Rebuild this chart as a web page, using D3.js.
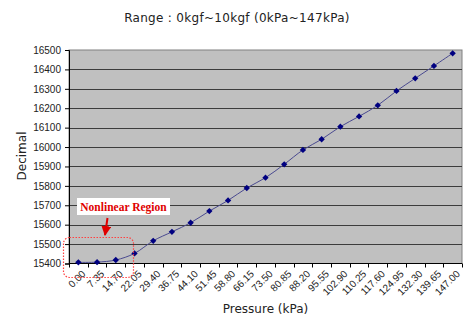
<!DOCTYPE html>
<html>
<head>
<meta charset="utf-8">
<script src="https://cdn.jsdelivr.net/npm/d3@7"></script>
<style>
  html, body { margin: 0; padding: 0; background: #fff; }
  svg { display: block; }
</style>
</head>
<body>
<svg id="chart" width="474" height="331"></svg>
<script>
// Pressure categories (kPa) and the sensor output (decimal counts)
const pressureLabels = ["0.00","7.35","14.70","22.05","29.40","36.75","44.10","51.45","58.80","66.15","73.50",
  "80.85","88.20","95.55","102.90","110.25","117.60","124.95","132.30","139.65","147.00"];
const decimalValues = [15406, 15407, 15418, 15452, 15517, 15563, 15610, 15670, 15725, 15789, 15842,
  15911, 15985, 16040, 16105, 16158, 16215, 16289, 16354, 16418, 16483];
const yTicks = [15400, 15500, 15600, 15700, 15800, 15900, 16000, 16100, 16200, 16300, 16400, 16500];
const yDomain = [15400, 16500];

const svg = d3.select("#chart");
const plot = { left: 69, right: 462, top: 50, bottom: 263.5 };

const x = d3.scaleBand().domain(pressureLabels).range([plot.left, plot.right]).padding(0);
const y = d3.scaleLinear().domain(yDomain).range([plot.bottom, plot.top]);

// Title
svg.append("text")
  .attr("x", 237).attr("y", 22)
  .attr("text-anchor", "middle")
  .attr("font-family", "DejaVu Sans, sans-serif")
  .attr("font-size", 12)
  .attr("letter-spacing", 0.3)
  .attr("fill", "#222")
  .text("Range : 0kgf~10kgf (0kPa~147kPa)");

// Plot area
svg.append("rect")
  .attr("x", plot.left).attr("y", plot.top)
  .attr("width", plot.right - plot.left).attr("height", plot.bottom - plot.top)
  .attr("fill", "#c0c0c0")
  .attr("stroke", "#808080").attr("stroke-width", 1);

// Horizontal gridlines
svg.append("g")
  .selectAll("line")
  .data(yTicks.slice(1, -1))
  .join("line")
  .attr("x1", plot.left).attr("x2", plot.right)
  .attr("y1", d => Math.round(y(d)) + 0.5).attr("y2", d => Math.round(y(d)) + 0.5)
  .attr("stroke", "#3c3c3c").attr("stroke-width", 1);

// Y axis
const yAxis = svg.append("g")
  .attr("transform", `translate(${plot.left},0)`)
  .call(d3.axisLeft(y).tickValues(yTicks).tickSize(4).tickPadding(4).tickFormat(d3.format("d")));
yAxis.select(".domain").attr("stroke", "#000");
yAxis.selectAll(".tick line").attr("stroke", "#000");
yAxis.selectAll("text")
  .attr("font-family", "Liberation Sans, Arial, sans-serif")
  .attr("font-size", 10).attr("fill", "#222");

// X axis with ticks at the category boundaries
const xAxisG = svg.append("g").attr("transform", `translate(0,${plot.bottom})`);
xAxisG.append("line")
  .attr("x1", plot.left).attr("x2", plot.right).attr("y1", 0).attr("y2", 0)
  .attr("stroke", "#000");
const boundaries = pressureLabels.map(d => x(d)).concat([x(pressureLabels[pressureLabels.length - 1]) + x.bandwidth()]);
xAxisG.selectAll("line.tk")
  .data(boundaries)
  .join("line").attr("class", "tk")
  .attr("x1", d => Math.round(d) + 0.5).attr("x2", d => Math.round(d) + 0.5)
  .attr("y1", 0).attr("y2", 4)
  .attr("stroke", "#000");
xAxisG.selectAll("text")
  .data(pressureLabels)
  .join("text")
  .attr("transform", d => `translate(${x(d) + x.bandwidth() / 2 + 3},${6}) rotate(-45)`)
  .attr("text-anchor", "end")
  .attr("dy", "0.7em")
  .attr("font-family", "Liberation Sans, Arial, sans-serif")
  .attr("font-size", 10).attr("fill", "#222")
  .text(d => d);

// Axis titles
svg.append("text")
  .attr("x", (plot.left + plot.right) / 2).attr("y", 313)
  .attr("text-anchor", "middle")
  .attr("font-family", "DejaVu Sans, sans-serif")
  .attr("font-size", 12).attr("fill", "#222")
  .text("Pressure (kPa)");
svg.append("text")
  .attr("transform", `translate(26,156) rotate(-90)`)
  .attr("text-anchor", "middle")
  .attr("font-family", "DejaVu Sans, sans-serif")
  .attr("font-size", 12).attr("fill", "#222")
  .text("Decimal");

// Series line and markers
const pts = pressureLabels.map((d, i) => [x(d) + x.bandwidth() / 2, y(decimalValues[i])]);
svg.append("path")
  .attr("d", d3.line().curve(d3.curveCatmullRom.alpha(0.5))(pts))
  .attr("fill", "none")
  .attr("stroke", "#4a4a90").attr("stroke-width", 1);
svg.append("g")
  .selectAll("path")
  .data(pts)
  .join("path")
  .attr("transform", d => `translate(${d[0]},${d[1]}) rotate(45)`)
  .attr("d", d3.symbol(d3.symbolSquare, 20)())
  .attr("fill", "#000080");

// Annotation: nonlinear region
svg.append("rect")
  .attr("x", 63.5).attr("y", 237.5).attr("width", 70).attr("height", 40)
  .attr("rx", 6)
  .attr("fill", "none")
  .attr("stroke", "#ff4040").attr("stroke-width", 1.2)
  .attr("stroke-dasharray", "1.5,1.5");
svg.append("rect")
  .attr("x", 77).attr("y", 198).attr("width", 93).attr("height", 17)
  .attr("fill", "#fff");
svg.append("text")
  .attr("x", 123.5).attr("y", 210.5)
  .attr("text-anchor", "middle")
  .attr("font-family", "Liberation Serif, Times New Roman, serif")
  .attr("font-weight", "bold")
  .attr("font-size", 11.5)
  .attr("fill", "#e00000")
  .text("Nonlinear Region");
svg.append("defs").append("marker")
  .attr("id", "ah").attr("viewBox", "0 0 10 10")
  .attr("refX", 9).attr("refY", 5)
  .attr("markerWidth", 5).attr("markerHeight", 5)
  .attr("orient", "auto")
  .append("path").attr("d", "M0,0 L10,5 L0,10 z").attr("fill", "#e00000");
svg.append("line")
  .attr("x1", 107.5).attr("y1", 218).attr("x2", 105).attr("y2", 235)
  .attr("stroke", "#e00000").attr("stroke-width", 2)
  .attr("marker-end", "url(#ah)");
</script>
</body>
</html>
